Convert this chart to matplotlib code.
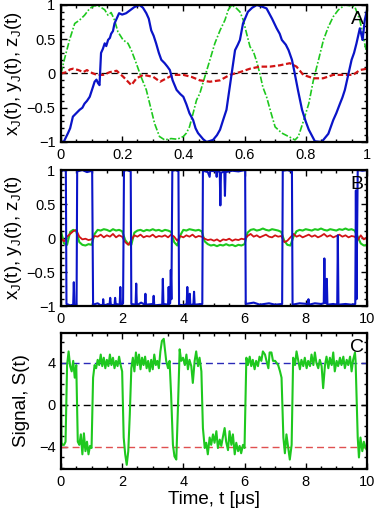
import matplotlib
matplotlib.use('Agg')
import matplotlib.pyplot as plt
from matplotlib.ticker import MultipleLocator

plt.rcParams['font.family'] = ['Liberation Sans', 'DejaVu Sans']
plt.rcParams['mathtext.fontset'] = 'custom'
plt.rcParams['mathtext.rm'] = 'Liberation Sans'
plt.rcParams['mathtext.it'] = 'Liberation Sans'

# ---- panel A: short time window (t, value)
a_x = [(0, -1.0), (0.01, -0.99), (0.023, -0.87), (0.03, -0.80), (0.039, -0.63), (0.05, -0.58),
       (0.061, -0.53), (0.07, -0.50), (0.077, -0.44), (0.085, -0.40), (0.094, -0.34), (0.105, -0.19),
       (0.11, -0.12), (0.116, -0.09), (0.121, -0.14), (0.126, -0.17), (0.131, 0.30), (0.137, 0.36),
       (0.143, 0.44), (0.148, 0.40), (0.154, 0.49), (0.16, 0.52), (0.164, 0.58), (0.17, 0.62),
       (0.175, 0.73), (0.182, 0.80), (0.19, 0.88), (0.2, 0.86), (0.213, 0.88), (0.225, 0.92),
       (0.24, 0.97), (0.257, 1.0), (0.268, 0.96), (0.279, 0.88), (0.287, 0.80), (0.295, 0.63),
       (0.303, 0.55), (0.311, 0.44), (0.32, 0.30), (0.328, 0.20), (0.339, 0.15), (0.348, 0.10),
       (0.356, 0.05), (0.365, -0.10), (0.378, -0.24), (0.39, -0.30), (0.40, -0.34), (0.41, -0.45),
       (0.42, -0.58), (0.432, -0.68), (0.44, -0.80), (0.448, -0.87), (0.465, -0.96), (0.476, -1.0),
       (0.497, -0.97), (0.51, -0.90), (0.52, -0.82), (0.53, -0.68), (0.541, -0.53), (0.55, -0.25),
       (0.558, 0.0), (0.569, 0.34), (0.578, 0.42), (0.585, 0.49), (0.595, 0.73), (0.611, 0.90),
       (0.625, 0.96), (0.64, 1.0), (0.655, 0.98), (0.672, 0.95), (0.69, 0.80), (0.705, 0.66),
       (0.715, 0.58), (0.722, 0.49), (0.735, 0.42), (0.744, 0.34), (0.755, 0.20), (0.762, 0.05),
       (0.775, -0.25), (0.788, -0.53), (0.80, -0.70), (0.81, -0.82), (0.83, -0.99), (0.852, -1.0),
       (0.874, -0.88), (0.89, -0.68), (0.90, -0.58), (0.912, -0.44), (0.92, -0.35), (0.928, -0.24),
       (0.939, -0.02), (0.95, 0.20), (0.958, 0.30), (0.966, 0.44), (0.977, 0.66), (0.986, 0.49),
       (0.993, 0.78), (1.0, 0.92)]
a_y = [(0, 0), (0.012, 0.22), (0.028, 0.49), (0.045, 0.73), (0.061, 0.78), (0.077, 0.85), (0.094, 0.95),
       (0.11, 0.99), (0.126, 0.98), (0.143, 0.93), (0.154, 0.85), (0.164, 0.89), (0.175, 0.78),
       (0.186, 0.61), (0.203, 0.49), (0.219, 0.44), (0.23, 0.34), (0.246, 0.15), (0.262, -0.05),
       (0.279, -0.24), (0.295, -0.53), (0.306, -0.73), (0.322, -0.92), (0.339, -0.97), (0.36, -0.95),
       (0.38, -0.96), (0.40, -0.92), (0.41, -0.87), (0.42, -0.78), (0.432, -0.58), (0.443, -0.39),
       (0.454, -0.29), (0.47, -0.05), (0.487, 0.2), (0.503, 0.44), (0.52, 0.63), (0.536, 0.78),
       (0.547, 0.93), (0.558, 1.0), (0.574, 0.95), (0.585, 0.9), (0.596, 0.78), (0.607, 0.58),
       (0.618, 0.39), (0.629, 0.32), (0.64, 0.17), (0.65, 0.0), (0.66, -0.2), (0.672, -0.34),
       (0.685, -0.55), (0.70, -0.78), (0.722, -0.87), (0.744, -0.92), (0.765, -0.97), (0.776, -0.92),
       (0.79, -0.73), (0.81, -0.44), (0.825, -0.1), (0.842, 0.2), (0.858, 0.49), (0.874, 0.68),
       (0.89, 0.83), (0.907, 0.93), (0.928, 1.0), (0.96, 0.98), (0.977, 0.78), (0.988, 0.54), (1.0, 0.29)]
a_z = [(0, 0), (0.019, 0.02), (0.03, 0.06), (0.04, 0.07), (0.057, 0.05), (0.073, 0.02), (0.085, 0.05),
       (0.095, 0.02), (0.117, -0.02), (0.138, -0.02), (0.16, 0.02), (0.182, 0.04), (0.204, -0.05),
       (0.23, -0.17), (0.247, -0.07), (0.269, -0.02), (0.302, -0.05), (0.324, -0.12), (0.345, -0.07),
       (0.367, -0.02), (0.4, -0.02), (0.427, -0.05), (0.454, -0.1), (0.487, -0.12), (0.52, -0.1),
       (0.552, -0.02), (0.585, 0.02), (0.618, 0.07), (0.65, 0.1), (0.683, 0.1), (0.716, 0.12),
       (0.748, 0.15), (0.77, 0.1), (0.792, -0.02), (0.825, -0.07), (0.857, -0.07), (0.89, -0.02),
       (0.923, -0.02), (0.955, -0.02), (0.977, 0.05), (1.0, 0.07)]

# ---- panel B: long window, telegraph x_J with spikes
b_x = [(0.00, 0.98), (0.08, 1.0), (0.16, 0.99), (0.18, -0.97), (0.30, -0.99), (0.40, -0.98), (0.42, -0.65),
       (0.44, -0.99), (0.51, -0.98), (0.53, 0.98), (0.70, 1.0), (0.85, 0.97), (1.02, 0.99), (1.05, -0.98),
       (1.20, -0.96), (1.30, -0.99), (1.37, -0.98), (1.38, -0.9), (1.40, -0.99), (1.59, -0.97),
       (1.61, -0.88), (1.63, -0.98), (1.75, -0.99), (1.77, -0.88), (1.79, -0.97), (1.92, -0.98),
       (1.94, -0.72), (1.96, -0.98), (2.03, -0.96), (2.06, 0.99), (2.15, 1.0), (2.28, 0.98), (2.30, -0.97),
       (2.44, -0.98), (2.46, -0.67), (2.48, -0.99), (2.62, -0.95), (2.74, -0.98), (2.76, -0.82),
       (2.78, -0.98), (3.01, -0.97), (3.03, -0.85), (3.05, -0.99), (3.31, -0.98), (3.33, -0.6),
       (3.35, -0.97), (3.50, -0.98), (3.52, -0.72), (3.54, -0.97), (3.57, -0.96), (3.59, -0.47),
       (3.61, -0.9), (3.64, 0.99), (3.75, 1.0), (3.84, 0.98), (3.86, -0.98), (4.00, -0.99), (4.11, -0.97),
       (4.13, -0.72), (4.15, -0.98), (4.19, -0.96), (4.21, -0.82), (4.23, -0.99), (4.33, -0.97),
       (4.35, -0.79), (4.37, -0.98), (4.62, -0.97), (4.64, 0.99), (4.80, 0.97), (4.86, 0.9), (4.88, 0.99),
       (5.07, 0.98), (5.09, 0.9), (5.11, 0.99), (5.19, 0.97), (5.21, 0.48), (5.23, 0.96), (5.34, 0.98),
       (5.36, 0.62), (5.38, 0.97), (5.60, 0.99), (5.80, 0.98), (6.02, 1.0), (6.04, -0.97), (6.30, -0.95),
       (6.50, -0.98), (6.80, -0.96), (7.00, -0.98), (7.23, -0.97), (7.25, 0.99), (7.40, 1.0), (7.55, 0.98),
       (7.57, -0.98), (7.80, -0.96), (8.07, -0.97), (8.09, -0.9), (8.11, -0.98), (8.30, -0.96),
       (8.50, -0.97), (8.59, -0.96), (8.61, -0.3), (8.63, -0.95), (8.67, -0.96), (8.69, -0.6),
       (8.71, -0.98), (8.90, -0.97), (9.03, -0.98), (9.05, 0.04), (9.07, -0.98), (9.30, -0.97),
       (9.50, -0.98), (9.62, -0.97), (9.64, 0.7), (9.66, -0.9), (9.70, 1.0), (9.85, 0.99), (10.0, 1.0)]
b_t = [i / 10 for i in range(101)]
b_y = [0.10, -0.08, -0.10, 0.09, 0.12, 0.10, -0.06, -0.10, -0.11, -0.09, -0.10,
       0.06, 0.12, 0.11, 0.13, 0.12, 0.10, 0.13, 0.11, 0.12, 0.10,
       -0.03, -0.09, -0.10, 0.08, 0.11, 0.12, 0.10, 0.12, 0.11, 0.13,
       0.11, 0.12, 0.10, 0.12, 0.11, 0.09, -0.06, -0.11, 0.04, 0.12,
       0.11, 0.13, 0.12, 0.11, 0.12, 0.10, -0.05, -0.09, -0.11, -0.10,
       -0.12, -0.10, -0.11, -0.09, -0.11, -0.10, -0.12, -0.10, -0.11, -0.09,
       0.08, 0.12, 0.13, 0.11, 0.12, 0.14, 0.12, 0.11, 0.13, 0.12,
       0.11, 0.09, -0.04, -0.10, -0.11, 0.02, 0.10, 0.12, 0.11, 0.13,
       0.12, 0.11, 0.13, 0.12, 0.14, 0.12, 0.11, 0.13, 0.12, 0.11,
       0.13, 0.12, 0.14, 0.12, 0.13, 0.11, 0.02, -0.08, -0.11, -0.10]
b_z = [0.0, -0.05, 0.02, 0.06, 0.10, 0.12, 0.02, -0.02, -0.01, -0.03, -0.02,
       0.03, 0.02, 0.05, 0.01, 0.04, 0.02, 0.06, 0.01, 0.04, 0.02,
       -0.06, -0.10, -0.03, 0.04, 0.02, 0.05, 0.01, 0.03, 0.02, 0.05,
       0.01, 0.03, 0.02, 0.04, 0.01, 0.05, 0.02, -0.04, 0.03, 0.01,
       0.04, 0.02, 0.05, 0.01, 0.03, 0.02, -0.01, -0.03, -0.02, -0.04,
       -0.02, -0.05, -0.02, -0.03, -0.01, -0.04, -0.02, -0.03, -0.01, -0.02,
       0.03, 0.06, 0.02, 0.04, 0.01, 0.03, 0.05, 0.02, 0.01, 0.04,
       0.02, 0.03, -0.06, -0.04, 0.01, 0.06, 0.02, 0.04, 0.01, 0.03,
       0.05, 0.02, 0.04, 0.01, 0.03, 0.06, 0.02, 0.04, 0.01, 0.03,
       0.05, 0.02, 0.04, 0.01, 0.03, 0.02, -0.03, 0.04, -0.02, 0.01]

# ---- panel C: measured signal S(t)
c_s = [(0.0, 1.9), (0.02, -3.6), (0.05, -3.8), (0.1, -3.8), (0.15, -3.5), (0.2, 3.8), (0.25, 5.1), (0.3, 3.7),
       (0.35, 3.2), (0.4, 4.2), (0.45, 2.6), (0.5, 3.8), (0.55, -3.5), (0.6, -3.8), (0.65, -2.8), (0.7, -4.7),
       (0.75, -2.7), (0.8, -4.4), (0.85, -3.5), (0.9, -4.7), (0.95, -3.9), (1.0, -4.1), (1.05, 2.6),
       (1.1, 3.8), (1.15, 3.5), (1.2, 4.3), (1.25, 3.8), (1.3, 4.8), (1.35, 3.7), (1.4, 4.5), (1.45, 3.5),
       (1.5, 4.3), (1.55, 3.7), (1.6, 4.8), (1.65, 3.8), (1.7, 4.5), (1.75, 3.5), (1.8, 4.2), (1.85, 3.7),
       (1.9, 4.6), (1.95, 3.8), (2.0, 3.2), (2.05, -3.1), (2.1, -4.7), (2.15, -5.7), (2.2, -4.4),
       (2.25, -0.9), (2.3, 3.5), (2.35, 4.5), (2.4, 3.2), (2.45, 5.0), (2.5, 3.8), (2.55, 4.8), (2.6, 3.4),
       (2.65, 4.5), (2.7, 3.8), (2.75, 4.6), (2.8, 3.5), (2.85, 4.2), (2.9, 3.2), (2.95, 4.3), (3.0, 3.4),
       (3.05, 4.8), (3.1, 3.8), (3.15, 4.2), (3.2, 3.5), (3.25, 5.1), (3.3, 6.1), (3.36, 6.3), (3.44, 4.2),
       (3.5, 3.5), (3.55, 4.2), (3.6, 1.0), (3.66, -3.8), (3.71, -4.9), (3.77, -5.2), (3.82, -0.6),
       (3.88, 5.3), (3.93, 4.2), (3.99, 4.5), (4.05, 3.8), (4.1, 4.8), (4.15, 3.4), (4.2, 4.3), (4.26, 3.7),
       (4.31, 2.1), (4.37, 4.2), (4.42, 5.1), (4.48, 3.7), (4.53, 4.5), (4.59, 3.2), (4.64, -2.2),
       (4.7, -4.1), (4.75, -3.6), (4.8, -4.7), (4.86, -3.1), (4.91, -3.8), (4.97, -2.8), (5.02, -3.6),
       (5.08, -2.5), (5.13, -4.1), (5.19, -3.3), (5.24, -3.9), (5.29, -3.1), (5.35, -2.2), (5.4, -3.5),
       (5.46, -4.3), (5.51, -2.5), (5.57, -3.8), (5.62, -2.8), (5.68, -4.7), (5.73, -3.6), (5.79, -4.4),
       (5.84, -3.9), (5.89, -4.6), (5.95, -3.8), (6.0, -4.1), (6.06, 4.5), (6.11, 3.8), (6.17, 4.6),
       (6.22, 3.7), (6.27, 4.3), (6.33, 3.4), (6.38, 4.2), (6.44, 3.7), (6.49, 4.6), (6.55, 4.2), (6.6, 5.1),
       (6.67, 4.8), (6.71, 4.3), (6.78, 3.5), (6.82, 5.0), (6.88, 5.0), (6.93, 4.2), (7.0, 4.2), (7.1, 3.8),
       (7.16, 3.2), (7.21, 2.6), (7.27, -3.1), (7.32, -4.6), (7.37, -2.8), (7.43, -4.1), (7.48, -5.2),
       (7.54, -3.8), (7.59, 4.5), (7.65, 3.8), (7.7, 5.1), (7.76, 4.2), (7.81, 3.4), (7.86, 4.3), (7.92, 3.7),
       (7.97, 4.5), (8.03, 3.5), (8.08, 4.2), (8.14, 3.7), (8.19, 4.8), (8.25, 3.8), (8.3, 5.0), (8.35, 4.0),
       (8.41, 3.5), (8.46, 4.3), (8.52, 3.7), (8.57, 1.6), (8.63, 3.8), (8.68, 4.6), (8.74, 3.5), (8.79, 4.5),
       (8.85, 3.8), (8.9, 5.0), (8.95, 3.2), (9.01, 4.2), (9.06, 3.7), (9.12, 4.5), (9.17, 3.8), (9.23, 4.6),
       (9.28, 3.5), (9.34, 4.3), (9.39, 3.8), (9.45, 4.6), (9.5, 3.2), (9.55, 4.3), (9.61, 5.0), (9.63, 4.2),
       (9.7, -3.1), (9.74, -5.0), (9.79, -3.1), (9.85, -4.4), (9.9, -3.5), (9.96, -4.1), (10.0, -4.3)]
c_levels = [4, 0, -4]
c_level_colors = ['#2a2ab8', 'black', '#e05050']

BLUE = '#0a14c8'
GREEN = '#1ec81e'
RED = '#d21414'


def unzip(pairs):
    return [p[0] for p in pairs], [p[1] for p in pairs]


def style(ax, xmaj, xmin, ymaj, ymin):
    ax.xaxis.set_major_locator(MultipleLocator(xmaj))
    ax.xaxis.set_minor_locator(MultipleLocator(xmin))
    ax.yaxis.set_major_locator(MultipleLocator(ymaj))
    ax.yaxis.set_minor_locator(MultipleLocator(ymin))
    ax.tick_params(which='both', direction='in', top=True, right=True, labelsize=10.5, width=1)
    ax.tick_params(which='major', length=4, pad=4)
    ax.tick_params(which='minor', length=2)
    for s in ax.spines.values():
        s.set_linewidth(1.6)


fig = plt.figure(figsize=(3.74, 5.15), dpi=100)
L, W = 0.163, 0.818
ax_a = fig.add_axes([L, 0.7243, W, 0.266])
ax_b = fig.add_axes([L, 0.4058, W, 0.264])
ax_c = fig.add_axes([L, 0.0893, W, 0.264])

ylab = r'x$_\mathregular{J}$(t), y$_\mathregular{J}$(t), z$_\mathregular{J}$(t)'

# A
ax_a.axhline(0, color='black', lw=0.9, dashes=(5, 3))
t, v = unzip(a_y)
ax_a.plot(t, v, color=GREEN, lw=1.2, dashes=(4, 1.2, 1, 1.2))
t, v = unzip(a_z)
ax_a.plot(t, v, color=RED, lw=1.6, dashes=(2.5, 1.2))
t, v = unzip(a_x)
ax_a.plot(t, v, color=BLUE, lw=1.6)
ax_a.set_xlim(0, 1)
ax_a.set_ylim(-1, 1)
style(ax_a, 0.2, 0.05, 0.5, 0.1)
ax_a.set_xticklabels([], minor=True)
ax_a.xaxis.set_major_formatter(matplotlib.ticker.FuncFormatter(lambda x, p: '%g' % round(x, 2)))
ax_a.yaxis.set_major_formatter(matplotlib.ticker.FuncFormatter(lambda y, p: ('%g' % y).replace('-', '\u2212')))
ax_a.set_ylabel(ylab, fontsize=13.5, labelpad=2)
ax_a.text(0.99, 0.955, 'A', transform=ax_a.transAxes, ha='right', va='top', fontsize=14)

# B
ax_b.plot(b_t, b_y, color=GREEN, lw=1.5)
ax_b.plot(b_t, b_z, color=RED, lw=1.3)
t, v = unzip(b_x)
ax_b.plot(t, v, color=BLUE, lw=1.5)
ax_b.set_xlim(0, 10)
ax_b.set_ylim(-1, 1)
style(ax_b, 2, 0.5, 0.5, 0.1)
ax_b.yaxis.set_major_formatter(matplotlib.ticker.FuncFormatter(lambda y, p: ('%g' % y).replace('-', '\u2212')))
ax_b.set_ylabel(ylab, fontsize=13.5, labelpad=2)
ax_b.text(0.99, 0.955, 'B', transform=ax_b.transAxes, ha='right', va='top', fontsize=14)

# C
for lev, col in zip(c_levels, c_level_colors):
    ax_c.axhline(lev, color=col, lw=1.0, dashes=(5, 3))
t, v = unzip(c_s)
ax_c.plot(t, v, color=GREEN, lw=1.5)
ax_c.set_xlim(0, 10)
ax_c.set_ylim(-6.1, 6.85)
style(ax_c, 2, 0.5, 4, 1)
ax_c.yaxis.set_major_formatter(matplotlib.ticker.FuncFormatter(lambda y, p: ('%g' % y).replace('-', '\u2212')))
ax_c.set_ylabel('Signal, S(t)', fontsize=13.5, labelpad=6)
ax_c.set_xlabel('Time, t [\u03bcs]', fontsize=13.5, labelpad=2)
ax_c.text(0.99, 0.955, 'C', transform=ax_c.transAxes, ha='right', va='top', fontsize=14)

fig.align_ylabels([ax_a, ax_b, ax_c])
fig.savefig('out.png', dpi=100)
